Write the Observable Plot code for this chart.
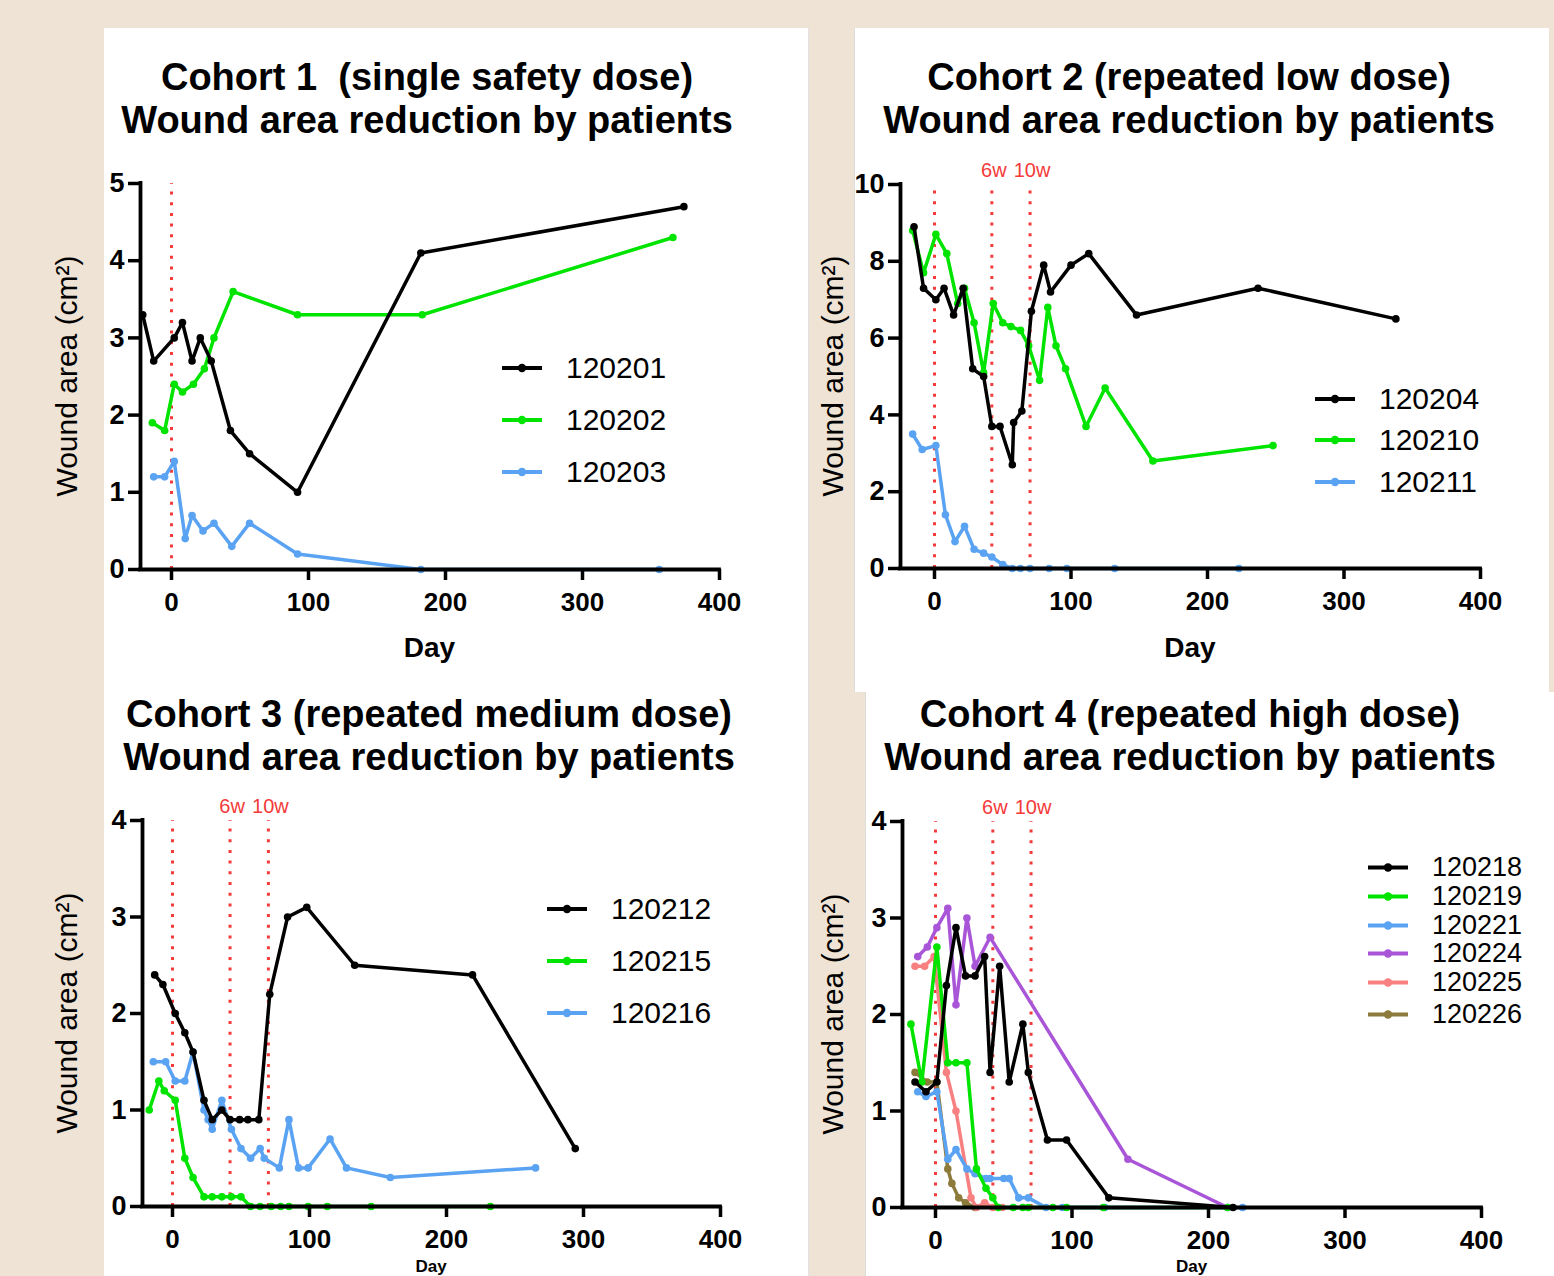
<!DOCTYPE html>
<html><head><meta charset="utf-8">
<script src="https://cdn.jsdelivr.net/npm/d3@7"></script>
<script src="https://cdn.jsdelivr.net/npm/@observablehq/plot@0.6"></script>
<style>
body{margin:0;background:#eee3d4;}
#root{position:relative;width:1554px;height:1276px;background:#eee3d4;overflow:hidden;font-family:"Liberation Sans",Arial,sans-serif;color:#000;}
.panel{position:absolute;background:#fff;}
.t{position:absolute;white-space:pre;line-height:1;transform:translate(-50%,-50%);}
.title{font-weight:bold;font-size:38px;}
.xl{font-weight:bold;font-size:28px;}
.yl{font-size:30px;transform:translate(-50%,-50%) rotate(-90deg);}
.leg{position:absolute;display:flex;align-items:center;white-space:nowrap;line-height:1;transform:translateY(-50%);}
.chart{position:absolute;}
</style></head>
<body>
<div id="root"></div>
<script>
// ---------- data ----------
const dayTicks = [0, 100, 200, 300, 400];
const c1Ticks = [0, 1, 2, 3, 4, 5];
const c2Ticks = [0, 2, 4, 6, 8, 10];
const c3Ticks = [0, 1, 2, 3, 4];
const c4Ticks = [0, 1, 2, 3, 4];
const doseDays = [0, 42, 70];
const doseLabels = ["", "6w", "10w"];

const cohort1 = ["120201", "120202", "120203"];
const cohort2 = ["120204", "120210", "120211"];
const cohort3 = ["120212", "120215", "120216"];
const cohort4 = ["120218", "120219", "120221", "120224", "120225", "120226"];

const day_120201 = [-21, -13, 2, 8, 15, 21, 29, 43, 57, 92, 182, 374];
const area_120201 = [3.3, 2.7, 3.0, 3.2, 2.7, 3.0, 2.7, 1.8, 1.5, 1.0, 4.1, 4.7];
const day_120202 = [-14, -5, 2, 8, 16, 24, 31, 45, 92, 183, 366];
const area_120202 = [1.9, 1.8, 2.4, 2.3, 2.4, 2.6, 3.0, 3.6, 3.3, 3.3, 4.3];
const day_120203 = [-13, -5, 2, 10, 15, 23, 31, 44, 57, 92, 182, 356];
const area_120203 = [1.2, 1.2, 1.4, 0.4, 0.7, 0.5, 0.6, 0.3, 0.6, 0.2, 0, 0];

const day_120204 = [-15, -8, 1, 7, 14, 21, 28, 36, 42, 48, 57, 58, 64, 71, 80, 85, 100, 113, 148, 237, 338];
const area_120204 = [8.9, 7.3, 7.0, 7.3, 6.6, 7.3, 5.2, 5.0, 3.7, 3.7, 2.7, 3.8, 4.1, 6.7, 7.9, 7.2, 7.9, 8.2, 6.6, 7.3, 6.5];
const day_120210 = [-16, -8, 1, 9, 17, 22, 29, 36, 43, 50, 56, 63, 69, 77, 83, 89, 96, 111, 125, 160, 248];
const area_120210 = [8.8, 7.7, 8.7, 8.2, 6.9, 7.3, 6.4, 5.1, 6.9, 6.4, 6.3, 6.2, 5.8, 4.9, 6.8, 5.8, 5.2, 3.7, 4.7, 2.8, 3.2];
const day_120211 = [-16, -9, 1, 8, 15, 22, 29, 36, 42, 50, 57, 63, 70, 84, 97, 132, 223];
const area_120211 = [3.5, 3.1, 3.2, 1.4, 0.7, 1.1, 0.5, 0.4, 0.3, 0.1, 0, 0, 0, 0, 0, 0, 0];

const day_120212 = [-13, -7, 2, 9, 15, 23, 29, 36, 42, 49, 55, 63, 71, 84, 98, 133, 219, 294];
const area_120212 = [2.4, 2.3, 2.0, 1.8, 1.6, 1.1, 0.9, 1.0, 0.9, 0.9, 0.9, 0.9, 2.2, 3.0, 3.1, 2.5, 2.4, 0.6];
const day_120215 = [-17, -10, -6, 2, 9, 15, 23, 29, 36, 43, 50, 57, 64, 72, 79, 85, 99, 113, 145, 232];
const area_120215 = [1.0, 1.3, 1.2, 1.1, 0.5, 0.3, 0.1, 0.1, 0.1, 0.1, 0.1, 0, 0, 0, 0, 0, 0, 0, 0, 0];
const day_120216 = [-14, -5, 2, 9, 15, 23, 26, 29, 36, 43, 50, 57, 64, 67, 78, 85, 92, 99, 115, 127, 159, 265];
const area_120216 = [1.5, 1.5, 1.3, 1.3, 1.6, 1.0, 0.9, 0.8, 1.1, 0.8, 0.6, 0.5, 0.6, 0.5, 0.4, 0.9, 0.4, 0.4, 0.7, 0.4, 0.3, 0.4];

const day_120218 = [-15, -7, 1, 8, 15, 22, 29, 36, 40, 47, 54, 64, 68, 82, 96, 127, 218];
const area_120218 = [1.3, 1.2, 1.3, 2.3, 2.9, 2.4, 2.4, 2.6, 1.4, 2.5, 1.3, 1.9, 1.4, 0.7, 0.7, 0.1, 0];
const day_120219 = [-18, -10, 1, 9, 15, 23, 30, 37, 42, 46, 57, 64, 68, 86, 96, 123, 214];
const area_120219 = [1.9, 1.3, 2.7, 1.5, 1.5, 1.5, 0.4, 0.2, 0.1, 0, 0, 0, 0, 0, 0, 0, 0];
const day_120221 = [-13, -7, 1, 9, 15, 23, 29, 37, 40, 50, 54, 61, 68, 81, 93, 124, 225];
const area_120221 = [1.2, 1.15, 1.2, 0.5, 0.6, 0.4, 0.35, 0.3, 0.3, 0.3, 0.3, 0.1, 0.1, 0, 0, 0, 0];
const day_120224 = [-13, -6, 1, 9, 15, 23, 29, 40, 141, 214];
const area_120224 = [2.6, 2.7, 2.9, 3.1, 2.1, 3.0, 2.5, 2.8, 0.5, 0];
const day_120225 = [-15, -8, -1, 8, 15, 26, 30, 36, 42, 49];
const area_120225 = [2.5, 2.5, 2.6, 1.4, 1.0, 0.1, 0, 0.05, 0, 0];
const day_120226 = [-15, -6, 1, 9, 12, 17, 22, 29];
const area_120226 = [1.4, 1.3, 1.3, 0.4, 0.25, 0.1, 0.05, 0];

const seriesDays = {120201: day_120201, 120202: day_120202, 120203: day_120203, 120204: day_120204, 120210: day_120210, 120211: day_120211, 120212: day_120212, 120215: day_120215, 120216: day_120216, 120218: day_120218, 120219: day_120219, 120221: day_120221, 120224: day_120224, 120225: day_120225, 120226: day_120226};
const seriesAreas = {120201: area_120201, 120202: area_120202, 120203: area_120203, 120204: area_120204, 120210: area_120210, 120211: area_120211, 120212: area_120212, 120215: area_120215, 120216: area_120216, 120218: area_120218, 120219: area_120219, 120221: area_120221, 120224: area_120224, 120225: area_120225, 120226: area_120226};

const colors3 = ["#000000", "#00e400", "#5aa2f2"];
const colors6 = ["#000000", "#00e400", "#5aa2f2", "#a855d8", "#f88080", "#8d7b3c"];
const RED = "#f43a3a";

// ---------- layout ----------
const root = document.getElementById("root");
function el(tag, cls, style, html) {
  const e = document.createElement(tag);
  if (cls) e.className = cls;
  Object.assign(e.style, style || {});
  if (html != null) e.textContent = html;
  root.appendChild(e);
  return e;
}
el("div", "panel", {left: "104px", top: "28px", width: "704px", height: "1248px", borderRight: "1px solid #e2e2e2"});
el("div", "panel", {left: "854px", top: "28px", width: "694px", height: "664px", borderLeft: "1px solid #dcdcdc"});
el("div", "panel", {left: "865px", top: "692px", width: "689px", height: "584px", borderLeft: "1px solid #dcdcdc"});

const configs = [
  {ids: cohort1, colors: colors3, yTicks: c1Ticks, ymax: 5, xStart: 140, xZero: 171, xEnd: 719, yTop: 183, y0: 569, lines: 1,
   title: ["Cohort 1  (single safety dose)", "Wound area reduction by patients"], tx: 427, ty: 77, dayY: 648, dayFont: 28, ylx: 67,
   legX: 502, legY: [368, 420, 472], legFont: 30},
  {ids: cohort2, colors: colors3, yTicks: c2Ticks, ymax: 10, xStart: 900, xZero: 934, xEnd: 1480, yTop: 184, y0: 568, lines: 3,
   title: ["Cohort 2 (repeated low dose)", "Wound area reduction by patients"], tx: 1189, ty: 77, dayY: 648, dayFont: 28, ylx: 833,
   legX: 1315, legY: [399, 440, 482], legFont: 30},
  {ids: cohort3, colors: colors3, yTicks: c3Ticks, ymax: 4, xStart: 142, xZero: 172, xEnd: 720, yTop: 820, y0: 1206, lines: 3,
   title: ["Cohort 3 (repeated medium dose)", "Wound area reduction by patients"], tx: 429, ty: 714, dayY: 1266, dayFont: 17, ylx: 67,
   legX: 547, legY: [909, 961, 1013], legFont: 30},
  {ids: cohort4, colors: colors6, yTicks: c4Ticks, ymax: 4, xStart: 902, xZero: 935, xEnd: 1481, yTop: 821, y0: 1207, lines: 3,
   title: ["Cohort 4 (repeated high dose)", "Wound area reduction by patients"], tx: 1190, ty: 714, dayY: 1266, dayFont: 17, ylx: 833,
   legX: 1368, legY: [867, 896, 925, 953, 982, 1014], legFont: 27}
];

for (const c of configs) {
  el("div", "t title", {left: c.tx + "px", top: c.ty + "px"}, c.title[0]);
  el("div", "t title", {left: c.tx + "px", top: (c.ty + 43) + "px"}, c.title[1]);
  const mL = 120, mR = 40, mT = 60, mB = 60;
  const left = c.xStart - mL, top = c.yTop - mT;
  const width = c.xEnd + mR - left, height = c.y0 + mB - top;
  const pxPerDay = (c.xEnd - c.xZero) / 400;
  const xmin = (c.xStart - c.xZero) / pxPerDay;

  const vData = doseDays.slice(0, c.lines).map((d, i) => ({day: d, lo: 0, hi: c.ymax, label: doseLabels[i]}));
  const marks = [
    Plot.ruleX(vData, {x: "day", y1: "lo", y2: "hi", stroke: RED, strokeWidth: 3, strokeDasharray: "3 7.7"}),
    Plot.text(vData, {x: "day", y: "hi", text: "label", dy: -14, fill: RED, fontSize: 20, dx: 2})
  ];
  for (let i = c.ids.length - 1; i >= 0; i--) {
    const id = c.ids[i];
    const rows = seriesDays[id].map((d, j) => ({day: d, area: seriesAreas[id][j], id}));
    marks.push(Plot.line(rows, {x: "day", y: "area", stroke: "id", strokeWidth: 3.5, strokeLinejoin: "miter"}));
    marks.push(Plot.dot(rows, {x: "day", y: "area", fill: "id", r: 3.8}));
  }
  marks.push(
    Plot.ruleY([{v: 0, a: xmin, b: 400}], {y: "v", x1: "a", x2: "b", stroke: "#000", strokeWidth: 3.8, strokeLinecap: "square"}),
    Plot.ruleX([{v: xmin, a: 0, b: c.ymax}], {x: "v", y1: "a", y2: "b", stroke: "#000", strokeWidth: 3.8, strokeLinecap: "square"}),
    Plot.axisX({ticks: dayTicks, tickSize: 11, tickPadding: 12, tickFormat: d => String(d), fontSize: 26, fontWeight: "bold", strokeWidth: 3.5, label: null}),
    Plot.axisY({ticks: c.yTicks, tickSize: 12, tickPadding: 4, tickFormat: d => String(d), fontSize: 27, fontWeight: "bold", strokeWidth: 3.5, label: null})
  );
  const svg = Plot.plot({
    width, height, marginLeft: mL, marginRight: mR, marginTop: mT, marginBottom: mB,
    x: {domain: [xmin, 400]},
    y: {domain: [0, c.ymax]},
    color: {domain: c.ids, range: c.colors},
    style: {background: "transparent", fontFamily: "'Liberation Sans', Arial, sans-serif", overflow: "visible", color: "#000"},
    marks
  });
  svg.classList.add("chart");
  svg.style.left = left + "px";
  svg.style.top = top + "px";
  svg.style.position = "absolute";
  root.appendChild(svg);

  el("div", "t xl", {left: ((c.xStart + c.xEnd) / 2) + "px", top: c.dayY + "px", fontSize: c.dayFont + "px"}, "Day");
  el("div", "t yl", {left: c.ylx + "px", top: ((c.yTop + c.y0) / 2) + "px"}, "Wound area (cm²)");

  c.ids.forEach((id, i) => {
    const d = el("div", "leg", {left: c.legX + "px", top: c.legY[i] + "px", fontSize: c.legFont + "px"});
    d.innerHTML = `<svg width="40" height="12" style="margin-right:24px;overflow:visible"><line x1="0" y1="6" x2="40" y2="6" stroke="${c.colors[i]}" stroke-width="4"/><circle cx="20" cy="6" r="4.2" fill="${c.colors[i]}"/></svg><span>${id}</span>`;
  });
}
</script>
</body></html>
